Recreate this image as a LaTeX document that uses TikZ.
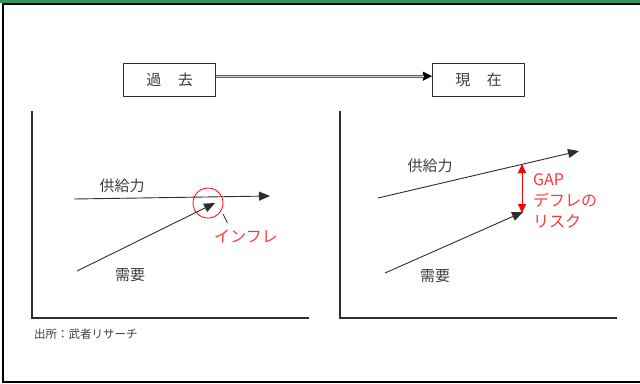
\documentclass[tikz,border=0pt]{standalone}
\usepackage{fontspec}
\setmainfont{Noto Sans CJK JP}
\usetikzlibrary{arrows.meta}
\definecolor{barGreen}{RGB}{52,148,92}
\definecolor{txtGray}{RGB}{60,60,60}
\definecolor{lineGray}{RGB}{45,45,45}
\definecolor{redA}{RGB}{255,0,0}
\definecolor{redT}{RGB}{255,55,55}
\begin{document}
\begin{tikzpicture}[x=1pt,y=-1pt,
  lbl/.style={font=\fontsize{15}{17}\selectfont, text=txtGray, inner sep=0pt},
  redlbl/.style={font=\fontsize{16}{21}\selectfont, text=redT, inner sep=0pt},
  boxst/.style={draw=lineGray, line width=1.1pt, minimum width=92pt, minimum height=33pt,
     inner sep=0pt, font=\fontsize{15}{17}\selectfont, text=txtGray},
  axis/.style={draw=lineGray, line width=1.2pt},
  curve/.style={draw=lineGray, line width=0.9pt, -{Triangle[length=11pt,width=9pt]}},
  gaparrow/.style={draw=redA, line width=1pt, {Triangle[length=9pt,width=8pt]}-{Triangle[length=9pt,width=8pt]}},
]
\useasboundingbox (0,0) rectangle (640,383);
% frame
\fill[barGreen] (0,0) rectangle (640,3.2);
\draw[black, line width=2pt] (645,4.2) -- (3,4.2) -- (3,382) -- (645,382);

% top boxes
\node[boxst] (past) at (169.5,79.8) {過\hspace{1.1em}去};
\node[boxst] (now) at (478.5,79.8) {現\hspace{1.1em}在};
\draw[black, line width=0.5pt, -{Triangle[length=9pt,width=9pt]}] ([yshift=3.6pt]past.east) -- ([yshift=3.6pt]now.west);
\draw[gray!75!black, line width=3.4pt, shorten >=8pt] ([yshift=3.6pt]past.east) -- ([yshift=3.6pt]now.west);
\draw[gray!35, line width=1.2pt, shorten >=8pt] ([yshift=3.6pt]past.east) -- ([yshift=3.6pt]now.west);

% left chart
\coordinate (Lo) at (32,318);
\coordinate (Ltop) at (32,111);
\coordinate (Lright) at (309,318);
\draw[axis] (Ltop) -- (Lo) -- (Lright);
\coordinate (LsA) at (74,199);
\coordinate (LsB) at (270,196);
\coordinate (LdA) at (77,271);
\coordinate (LdB) at (215,203);
\draw[curve] (LsA) -- (LsB);
\draw[curve] (LdA) -- (LdB);
\node[lbl] (Lsup) at (122,186) {供給力};
\node[lbl] (Ldem) at (130,275) {需要};
\node[draw=redA, line width=0.8pt, circle, minimum size=30pt, inner sep=0pt] (ring) at (208,203) {};
\node[redlbl] (infl) at (246,236) {インフレ};
\coordinate (leadA) at (223,214);
\coordinate (leadB) at (227.5,223);
\draw[lineGray, line width=0.8pt] (leadA) -- (leadB);
\node[font=\fontsize{11.5}{13}\selectfont, text=txtGray, anchor=west, inner sep=0pt] (src) at (34,334) {出所：武者リサーチ};

% right chart
\coordinate (Ro) at (340,318);
\coordinate (Rtop) at (340,111);
\coordinate (Rright) at (617,318);
\draw[axis] (Rtop) -- (Ro) -- (Rright);
\coordinate (RsA) at (378,198);
\coordinate (RsB) at (579,151);
\coordinate (RdA) at (385,273);
\coordinate (RdB) at (523,212);
\draw[curve] (RsA) -- (RsB);
\draw[curve] (RdA) -- (RdB);
\node[lbl] (Rsup) at (430,166) {供給力};
\node[lbl] (Rdem) at (435,276) {需要};
\coordinate (gapT) at (522,164);
\coordinate (gapB) at (522,213);
\draw[gaparrow] (gapT) -- (gapB);
\node[redlbl, anchor=west, align=left] (gaptxt) at (533,201) {GAP\\デフレの\\リスク};
\end{tikzpicture}
\end{document}
